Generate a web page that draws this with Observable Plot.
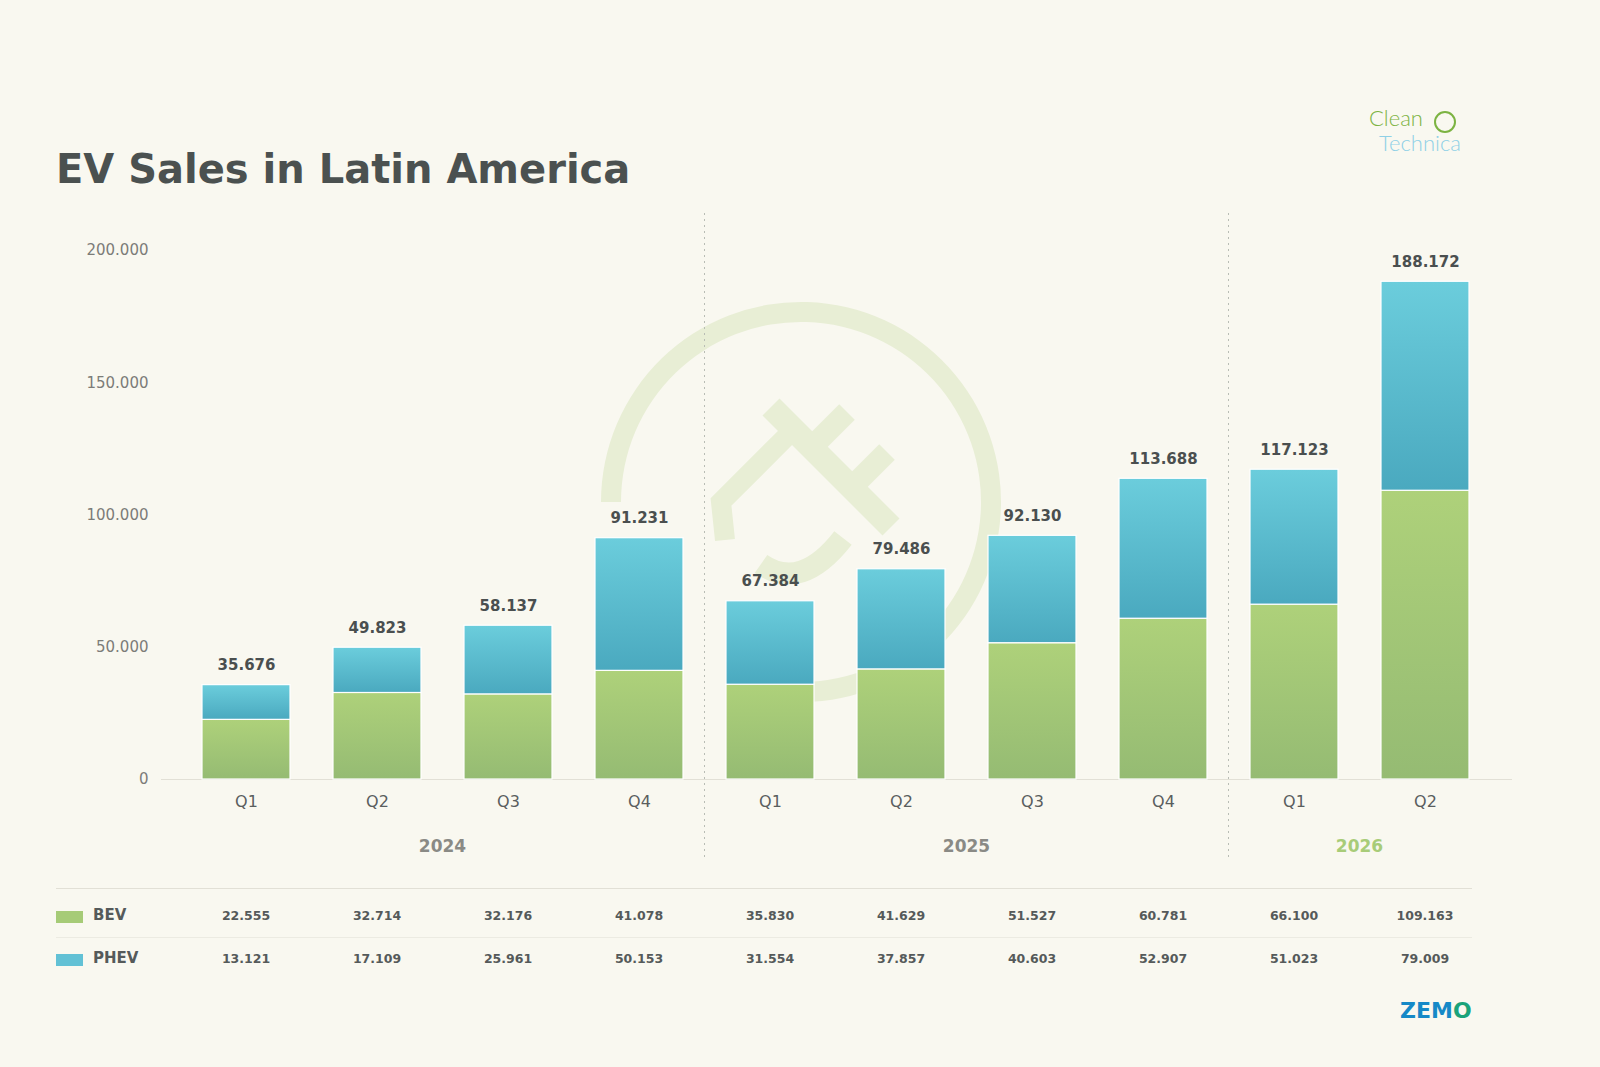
<!DOCTYPE html>
<html><head><meta charset="utf-8">
<script src="https://cdn.jsdelivr.net/npm/d3@7"></script>
<script src="https://cdn.jsdelivr.net/npm/@observablehq/plot@0.6"></script>
<style>
body{margin:0;background:#f9f8f0;font-family:"DejaVu Sans",sans-serif;}
#wrap{position:relative;width:1600px;height:1067px;overflow:hidden;}
.abs{position:absolute;}
</style></head><body><div id="wrap"></div>
<script>
const years = ["2024","2024","2024","2024","2025","2025","2025","2025","2026","2026"];
const quarters = ["Q1","Q2","Q3","Q4","Q1","Q2","Q3","Q4","Q1","Q2"];
const bev = [22555,32714,32176,41078,35830,41629,51527,60781,66100,109163];
const phev = [13121,17109,25961,50153,31554,37857,40603,52907,51023,79009];
const yTicks = [0,50000,100000,150000,200000];

const loc = d3.formatLocale({thousands:".",decimal:",",grouping:[3],currency:["",""]});
const fmt = loc.format(",d");
const keys = years.map((y,i)=>y+"-"+quarters[i]);
const rows = [];
keys.forEach((k,i)=>{
  rows.push({k,type:"BEV",y1:0,y2:bev[i]});
  rows.push({k,type:"PHEV",y1:bev[i],y2:bev[i]+phev[i]});
});
const totals = keys.map((k,i)=>({k,t:bev[i]+phev[i]}));

const wrap = document.getElementById("wrap");
const plot = Plot.plot({
  width:1600,height:880,marginLeft:161,marginRight:88,marginTop:250,marginBottom:101,
  style:{background:"transparent",fontFamily:"DejaVu Sans"},
  x:{domain:keys,range:[179,1492],paddingInner:0.33,paddingOuter:0.165,axis:null},
  y:{domain:[0,200000],axis:null},
  marks:[
    Plot.ruleY(yTicks.slice(1),{x1:keys[0],x2:keys[9],stroke:"#dedcd2",strokeWidth:1.2,insetLeft:-(179-161)-30,insetRight:-30}),
    Plot.ruleY([0],{stroke:"#e2e0d6"}),
    Plot.text(yTicks,{x:()=>keys[0],y:d=>d,text:d=>fmt(d),textAnchor:"end",dx:-98,fontSize:15,fill:"#7c7c78"}),
    Plot.rectY(rows,{x:"k",y1:"y1",y2:"y2",fill:d=>d.type==="BEV"?"url(#gBev)":"url(#gPhev)",stroke:"#ffffff",strokeWidth:1.2}),
    Plot.text(totals,{x:"k",y:"t",text:d=>fmt(d.t),dy:-20,fontSize:15,fontWeight:"bold",fill:"#4a4f4f"}),
    Plot.text(keys,{x:d=>d,y:()=>0,text:(d,i)=>quarters[i],dy:22,fontSize:16,fill:"#5a5e5e"})
  ]
});
plot.style.position="absolute";plot.style.left="0";plot.style.top="0";
const svg = d3.select(plot);
const defs = svg.insert("defs",":first-child");
function grad(id,a,b){const g=defs.append("linearGradient").attr("id",id).attr("x1",0).attr("y1",0).attr("x2",0).attr("y2",1);
 g.append("stop").attr("offset","0%").attr("stop-color",a);g.append("stop").attr("offset","100%").attr("stop-color",b);}
grad("gBev","#aed17a","#95bb73");grad("gPhev","#6bcddc","#4aa9bf");

const xs = plot.scale("x"); const bw = xs.bandwidth;
const cx = k => xs.apply(k)+bw/2;
// watermark
const wm = svg.insert("g","g").attr("fill","none").attr("stroke","#e8eed5").attr("stroke-width",20);
const R=190, C=[801,502];
const arc=d3.arc()({innerRadius:R-10,outerRadius:R+10,startAngle:-Math.PI/2,endAngle:Math.PI*1.03});
wm.append("path").attr("d",arc).attr("transform",`translate(${C})`).attr("fill","#e8eed5").attr("stroke","none");
wm.append("path").attr("d",`M${C[0]-76},${C[1]+38} L${C[0]-80},${C[1]} L${C[0]-15},${C[1]-65}`);
wm.append("path").attr("d",`M${C[0]-30},${C[1]-95} L${C[0]+90},${C[1]+25}`).attr("stroke-width",24);
wm.append("path").attr("d",`M${C[0]+46},${C[1]-90} L${C[0]+10},${C[1]-54}`).attr("stroke-width",22);
wm.append("path").attr("d",`M${C[0]+86},${C[1]-50} L${C[0]+50},${C[1]-14}`).attr("stroke-width",22);
wm.append("path").attr("d",`M${C[0]+42},${C[1]+36} Q${C[0]},${C[1]+90} ${C[0]-40},${C[1]+62}`).attr("stroke-width",22);
// separators
[3,7].forEach(i=>{const x=(cx(keys[i])+cx(keys[i+1]))/2;
 svg.append("line").attr("x1",x).attr("x2",x).attr("y1",213).attr("y2",857).attr("stroke","#b9bdb5").attr("stroke-dasharray","2,4");});
wrap.appendChild(plot);

// year labels
const yrs=["2024","2025","2026"];
yrs.forEach(y=>{const ks=keys.filter(k=>k.startsWith(y));const m=(cx(ks[0])+cx(ks[ks.length-1]))/2;
 const d=document.createElement("div");d.className="abs";d.textContent=y;
 d.style.cssText=`left:${m-50}px;width:100px;text-align:center;top:836px;font-size:17px;font-weight:bold;color:${y==="2026"?"#a8cc78":"#8a8a85"}`;wrap.appendChild(d);});

function add(html,css){const d=document.createElement("div");d.className="abs";d.innerHTML=html;d.style.cssText=css;wrap.appendChild(d);}
add("EV Sales in Latin America","left:56px;top:146px;font-size:40px;font-weight:bold;color:#4b5150;");
add("","left:56px;top:888px;width:1416px;height:1px;background:#e2e0d6");
add("","left:56px;top:937px;width:1416px;height:1px;background:#ecebe2");
[["BEV",bev,"#a6cb77",906],["PHEV",phev,"#62c1d5",949]].forEach(([n,v,c,t])=>{
  add("",`left:56px;top:${t+5}px;width:27px;height:12px;background:${c}`);
  add(n,`left:93px;top:${t}px;font-size:15px;font-weight:bold;color:#555a5a`);
  v.forEach((val,i)=>add(fmt(val),`left:${cx(keys[i])-50}px;width:100px;text-align:center;top:${t+2}px;font-size:12.5px;font-weight:bold;color:#555a5a`));
});
add('Clean',"left:1369px;top:106px;font-size:22px;line-height:24px;font-family:Lato,sans-serif;font-weight:300;color:#7cb342");
add('Technica',"left:1379px;top:131px;font-size:22px;line-height:24px;font-family:Lato,sans-serif;font-weight:300;color:#8fd0e6");
add('',"left:1434px;top:111px;width:18px;height:18px;border:2px solid #7cb342;border-radius:50%");
add('ZEM<span style="color:#1aa37a">O</span>',"left:1400px;top:998px;font-size:22px;font-weight:bold;color:#1689c7;");
</script></body></html>
